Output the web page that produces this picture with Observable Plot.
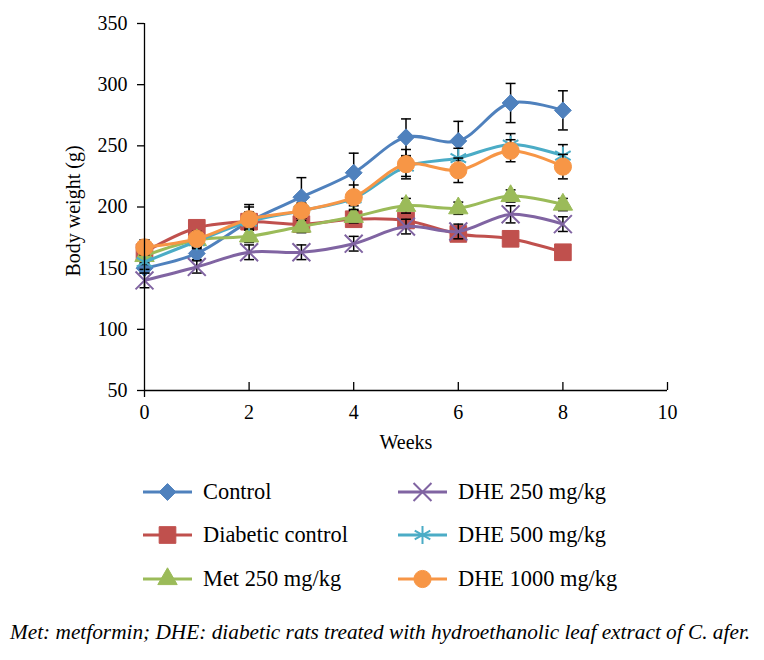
<!DOCTYPE html>
<html><head><meta charset="utf-8">
<script src="https://cdn.jsdelivr.net/npm/d3@7"></script>
<script src="https://cdn.jsdelivr.net/npm/@observablehq/plot@0.6"></script>
<style>
body{margin:0;background:#fff;}
#wrap{position:relative;width:764px;height:660px;overflow:hidden;font-family:"Liberation Serif","DejaVu Serif",serif;color:#000;}
#chart{position:absolute;left:0;top:0;}
.leg{position:absolute;height:30px;display:flex;align-items:center;font-size:22.4px;white-space:nowrap;}
.leg span{margin-left:11px;}
#caption{position:absolute;left:10px;top:620px;font-style:italic;font-size:21.3px;white-space:nowrap;}
</style></head><body>
<div id="wrap"><div id="chart"></div></div>
<script>
// ---- data ----
const weeks = [0, 1, 2, 3, 4, 5, 6, 7, 8];
const seriesNames = ["Control", "Diabetic control", "Met 250 mg/kg", "DHE 250 mg/kg", "DHE 500 mg/kg", "DHE 1000 mg/kg"];
const control      = [150, 162, 188, 208, 228, 257, 254, 285, 279];
const diabetic     = [163, 183, 188, 186, 190, 189, 178, 174, 163];
const met250       = [160, 173, 176, 184, 192, 201, 199, 209, 202];
const dhe250       = [140, 151, 163, 163, 170, 184, 180, 194, 186];
const dhe500       = [155, 172, 188, 197, 207, 233, 240, 251, 242];
const dhe1000      = [167, 174, 190, 197, 208, 235, 230, 246, 233];
const controlErr   = [4, 5, 14, 16, 16, 15, 16, 16, 16];
const diabeticErr  = [10, 4, 12, 6, 6, 6, 5, 4, 4];
const met250Err    = [5, 5, 5, 5, 5, 6, 5, 5, 5];
const dhe250Err    = [6, 5, 6, 6, 6, 6, 6, 7, 6];
const dhe500Err    = [6, 6, 6, 6, 6, 8, 8, 9, 9];
const dhe1000Err   = [6, 6, 6, 6, 10, 12, 10, 9, 10];
const yTicks = [50, 100, 150, 200, 250, 300, 350];
const xTicks = [0, 2, 4, 6, 8, 10];
const xLabel = "Weeks";
const yLabel = "Body weight (g)";
const captionText = "Met: metformin; DHE: diabetic rats treated with hydroethanolic leaf extract of C. afer.";

// ---- styling ----
const colors = ["#4F81BD", "#C0504D", "#9BBB59", "#8064A2", "#4BACC6", "#F79646"];
const symbols = ["diamond2", "square", "triangle", "times", "asterisk", "circle"];
const radii = [7.6, 9.4, 7.2, 8.2, 8.5, 8.6];
const filled = [true, true, true, false, false, true];
const d3Syms = [d3.symbolDiamond2, d3.symbolSquare, d3.symbolTriangle, d3.symbolTimes, d3.symbolAsterisk, d3.symbolCircle];

const values = [control, diabetic, met250, dhe250, dhe500, dhe1000];
const errs = [controlErr, diabeticErr, met250Err, dhe250Err, dhe500Err, dhe1000Err];
const rows = seriesNames.map((s, k) => weeks.map((w, i) => ({series: s, week: w, value: values[k][i], err: errs[k][i]})));

const capSym = {draw(ctx, size) { const w = Math.sqrt(size) * 0.5; ctx.moveTo(-w, 0); ctx.lineTo(w, 0); }};

const W = 764, H = 470, mT = 23, mB = 80, mL = 144, mR = 97;
const frameH = H - mT - mB;

const marks = [
  Plot.ruleY([50], {stroke: "black", strokeWidth: 1.3}),
  Plot.tickX(xTicks.filter(d => d > 0), {x: d => d, stroke: "black", strokeWidth: 1.3, insetTop: frameH - 8}),
  Plot.axisY(yTicks, {tickSize: 7, tickPadding: 10, fontSize: 20, label: null, stroke: "black", strokeWidth: 1.3}),
  Plot.axisX(xTicks, {tickSize: 0, tickPadding: 14, fontSize: 20, label: null}),
  Plot.text([xLabel], {frameAnchor: "bottom", dy: 58, fontSize: 20}),
  Plot.text([yLabel], {frameAnchor: "left", textAnchor: "middle", dx: -71, dy: 4, rotate: -90, fontSize: 20}),
];
rows.forEach((data, k) => {
  marks.push(Plot.line(data, {x: "week", y: "value", stroke: colors[k], strokeWidth: 3, curve: "catmull-rom"}));
  marks.push(Plot.ruleX(data, {x: "week", y1: d => d.value - d.err, y2: d => d.value + d.err, stroke: "black", strokeWidth: 1.5}));
  marks.push(Plot.dot(data, {x: "week", y: d => d.value + d.err, symbol: capSym, r: 5.6, fill: "none", stroke: "black", strokeWidth: 1.5}));
  marks.push(Plot.dot(data, {x: "week", y: d => d.value - d.err, symbol: capSym, r: 5.6, fill: "none", stroke: "black", strokeWidth: 1.5}));
  marks.push(Plot.dot(data, filled[k]
    ? {x: "week", y: "value", symbol: symbols[k], r: radii[k], fill: colors[k], stroke: colors[k], strokeWidth: 1}
    : {x: "week", y: "value", symbol: symbols[k], r: radii[k], fill: "none", stroke: colors[k], strokeWidth: 2}));
});
marks.push(Plot.ruleX([0], {stroke: "black", strokeWidth: 1.3, insetBottom: -7}));

const chart = Plot.plot({
  width: W, height: H,
  marginTop: mT, marginBottom: mB, marginLeft: mL, marginRight: mR,
  style: {fontFamily: '"Liberation Serif","DejaVu Serif",serif', fontSize: "20px", color: "black", background: "white"},
  x: {domain: [0, 10]},
  y: {domain: [50, 350]},
  marks
});
document.getElementById("chart").appendChild(chart);

// ---- legend ----
const wrap = document.getElementById("wrap");
const legPos = [[143, 492], [143, 535], [143, 579], [398, 492], [398, 535], [398, 579]];
seriesNames.forEach((name, k) => {
  const div = document.createElement("div");
  div.className = "leg";
  div.style.left = legPos[k][0] + "px";
  div.style.top = (legPos[k][1] - 15) + "px";
  const size = Math.PI * radii[k] * radii[k];
  const path = d3.symbol(d3Syms[k], size)();
  const sym = filled[k]
    ? `<path d="${path}" transform="translate(24.5,15)" fill="${colors[k]}" stroke="${colors[k]}" stroke-width="1"/>`
    : `<path d="${path}" transform="translate(24.5,15)" fill="none" stroke="${colors[k]}" stroke-width="2"/>`;
  div.innerHTML = `<svg width="49" height="30"><line x1="0" x2="49" y1="15" y2="15" stroke="${colors[k]}" stroke-width="3"/>${sym}</svg><span>${name}</span>`;
  wrap.appendChild(div);
});
const cap = document.createElement("div");
cap.id = "caption";
cap.textContent = captionText;
wrap.appendChild(cap);
</script>
</body></html>
